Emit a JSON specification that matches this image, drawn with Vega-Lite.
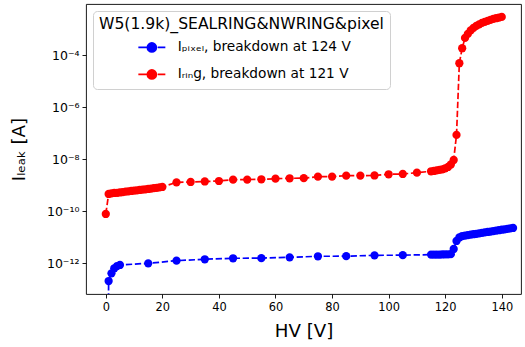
{
  "$schema": "https://vega.github.io/schema/vega-lite/v6.json",
  "width": 435,
  "height": 290,
  "autosize": {"type": "none"},
  "padding": {"left": 86, "top": 4, "right": 4, "bottom": 53},
  "config": {
    "font": "DejaVu Sans",
    "view": {"stroke": "#000", "strokeWidth": 0.9},
    "axis": {
      "grid": false, "domain": false, "tickColor": "#000", "tickSize": 4, "tickWidth": 0.9,
      "labelFontSize": 11.4, "labelColor": "#000", "labelPadding": 3,
      "titleFontSize": 18.2, "titleFontWeight": "normal", "titleColor": "#000"
    }
  },
  "data": {
    "values": [
      {"s": "Iᵣᵢₙg, breakdown at 121 V", "V": 0, "I": 7.87e-11},
      {"s": "Iᵣᵢₙg, breakdown at 121 V", "V": 1, "I": 4.62e-10},
      {"s": "Iᵣᵢₙg, breakdown at 121 V", "V": 2, "I": 4.92e-10},
      {"s": "Iᵣᵢₙg, breakdown at 121 V", "V": 3, "I": 5.06e-10},
      {"s": "Iᵣᵢₙg, breakdown at 121 V", "V": 4, "I": 5.15e-10},
      {"s": "Iᵣᵢₙg, breakdown at 121 V", "V": 5, "I": 5.28e-10},
      {"s": "Iᵣᵢₙg, breakdown at 121 V", "V": 6, "I": 5.47e-10},
      {"s": "Iᵣᵢₙg, breakdown at 121 V", "V": 7, "I": 5.68e-10},
      {"s": "Iᵣᵢₙg, breakdown at 121 V", "V": 8, "I": 5.82e-10},
      {"s": "Iᵣᵢₙg, breakdown at 121 V", "V": 9, "I": 6.04e-10},
      {"s": "Iᵣᵢₙg, breakdown at 121 V", "V": 10, "I": 6.19e-10},
      {"s": "Iᵣᵢₙg, breakdown at 121 V", "V": 11, "I": 6.43e-10},
      {"s": "Iᵣᵢₙg, breakdown at 121 V", "V": 12, "I": 6.59e-10},
      {"s": "Iᵣᵢₙg, breakdown at 121 V", "V": 13, "I": 6.84e-10},
      {"s": "Iᵣᵢₙg, breakdown at 121 V", "V": 14, "I": 7.01e-10},
      {"s": "Iᵣᵢₙg, breakdown at 121 V", "V": 15, "I": 7.21e-10},
      {"s": "Iᵣᵢₙg, breakdown at 121 V", "V": 16, "I": 7.46e-10},
      {"s": "Iᵣᵢₙg, breakdown at 121 V", "V": 17, "I": 7.73e-10},
      {"s": "Iᵣᵢₙg, breakdown at 121 V", "V": 18, "I": 8.02e-10},
      {"s": "Iᵣᵢₙg, breakdown at 121 V", "V": 19, "I": 8.30e-10},
      {"s": "Iᵣᵢₙg, breakdown at 121 V", "V": 20, "I": 8.61e-10},
      {"s": "Iᵣᵢₙg, breakdown at 121 V", "V": 25, "I": 1.30e-9},
      {"s": "Iᵣᵢₙg, breakdown at 121 V", "V": 30, "I": 1.34e-9},
      {"s": "Iᵣᵢₙg, breakdown at 121 V", "V": 35, "I": 1.40e-9},
      {"s": "Iᵣᵢₙg, breakdown at 121 V", "V": 40, "I": 1.46e-9},
      {"s": "Iᵣᵢₙg, breakdown at 121 V", "V": 45, "I": 1.64e-9},
      {"s": "Iᵣᵢₙg, breakdown at 121 V", "V": 50, "I": 1.66e-9},
      {"s": "Iᵣᵢₙg, breakdown at 121 V", "V": 55, "I": 1.70e-9},
      {"s": "Iᵣᵢₙg, breakdown at 121 V", "V": 60, "I": 1.79e-9},
      {"s": "Iᵣᵢₙg, breakdown at 121 V", "V": 65, "I": 1.86e-9},
      {"s": "Iᵣᵢₙg, breakdown at 121 V", "V": 70, "I": 1.88e-9},
      {"s": "Iᵣᵢₙg, breakdown at 121 V", "V": 75, "I": 2.14e-9},
      {"s": "Iᵣᵢₙg, breakdown at 121 V", "V": 80, "I": 2.16e-9},
      {"s": "Iᵣᵢₙg, breakdown at 121 V", "V": 85, "I": 2.34e-9},
      {"s": "Iᵣᵢₙg, breakdown at 121 V", "V": 90, "I": 2.36e-9},
      {"s": "Iᵣᵢₙg, breakdown at 121 V", "V": 95, "I": 2.38e-9},
      {"s": "Iᵣᵢₙg, breakdown at 121 V", "V": 100, "I": 2.65e-9},
      {"s": "Iᵣᵢₙg, breakdown at 121 V", "V": 105, "I": 2.72e-9},
      {"s": "Iᵣᵢₙg, breakdown at 121 V", "V": 110, "I": 3.05e-9},
      {"s": "Iᵣᵢₙg, breakdown at 121 V", "V": 115, "I": 3.45e-9},
      {"s": "Iᵣᵢₙg, breakdown at 121 V", "V": 116, "I": 3.55e-9},
      {"s": "Iᵣᵢₙg, breakdown at 121 V", "V": 117, "I": 3.72e-9},
      {"s": "Iᵣᵢₙg, breakdown at 121 V", "V": 118, "I": 3.89e-9},
      {"s": "Iᵣᵢₙg, breakdown at 121 V", "V": 119, "I": 4.12e-9},
      {"s": "Iᵣᵢₙg, breakdown at 121 V", "V": 120, "I": 4.51e-9},
      {"s": "Iᵣᵢₙg, breakdown at 121 V", "V": 121, "I": 5.06e-9},
      {"s": "Iᵣᵢₙg, breakdown at 121 V", "V": 122, "I": 6.31e-9},
      {"s": "Iᵣᵢₙg, breakdown at 121 V", "V": 123, "I": 9.40e-9},
      {"s": "Iᵣᵢₙg, breakdown at 121 V", "V": 124, "I": 8.61e-8},
      {"s": "Iᵣᵢₙg, breakdown at 121 V", "V": 125, "I": 4.92e-5},
      {"s": "Iᵣᵢₙg, breakdown at 121 V", "V": 126, "I": 1.86e-4},
      {"s": "Iᵣᵢₙg, breakdown at 121 V", "V": 127, "I": 4.62e-4},
      {"s": "Iᵣᵢₙg, breakdown at 121 V", "V": 128, "I": 6.61e-4},
      {"s": "Iᵣᵢₙg, breakdown at 121 V", "V": 129, "I": 8.99e-4},
      {"s": "Iᵣᵢₙg, breakdown at 121 V", "V": 130, "I": 1.12e-3},
      {"s": "Iᵣᵢₙg, breakdown at 121 V", "V": 131, "I": 1.34e-3},
      {"s": "Iᵣᵢₙg, breakdown at 121 V", "V": 132, "I": 1.53e-3},
      {"s": "Iᵣᵢₙg, breakdown at 121 V", "V": 133, "I": 1.75e-3},
      {"s": "Iᵣᵢₙg, breakdown at 121 V", "V": 134, "I": 1.91e-3},
      {"s": "Iᵣᵢₙg, breakdown at 121 V", "V": 135, "I": 2.08e-3},
      {"s": "Iᵣᵢₙg, breakdown at 121 V", "V": 136, "I": 2.28e-3},
      {"s": "Iᵣᵢₙg, breakdown at 121 V", "V": 137, "I": 2.49e-3},
      {"s": "Iᵣᵢₙg, breakdown at 121 V", "V": 138, "I": 2.65e-3},
      {"s": "Iᵣᵢₙg, breakdown at 121 V", "V": 139, "I": 2.82e-3},
      {"s": "Iᵣᵢₙg, breakdown at 121 V", "V": 140, "I": 2.97e-3},
      {"s": "Iₚᵢₓₑₗ, breakdown at 124 V", "V": 0, "I": 1e-30},
      {"s": "Iₚᵢₓₑₗ, breakdown at 124 V", "V": 1, "I": 2.08e-13},
      {"s": "Iₚᵢₓₑₗ, breakdown at 124 V", "V": 2, "I": 4.12e-13},
      {"s": "Iₚᵢₓₑₗ, breakdown at 124 V", "V": 3, "I": 6.43e-13},
      {"s": "Iₚᵢₓₑₗ, breakdown at 124 V", "V": 4, "I": 7.87e-13},
      {"s": "Iₚᵢₓₑₗ, breakdown at 124 V", "V": 5, "I": 8.61e-13},
      {"s": "Iₚᵢₓₑₗ, breakdown at 124 V", "V": 15, "I": 1.00e-12},
      {"s": "Iₚᵢₓₑₗ, breakdown at 124 V", "V": 25, "I": 1.26e-12},
      {"s": "Iₚᵢₓₑₗ, breakdown at 124 V", "V": 35, "I": 1.43e-12},
      {"s": "Iₚᵢₓₑₗ, breakdown at 124 V", "V": 45, "I": 1.56e-12},
      {"s": "Iₚᵢₓₑₗ, breakdown at 124 V", "V": 55, "I": 1.58e-12},
      {"s": "Iₚᵢₓₑₗ, breakdown at 124 V", "V": 65, "I": 1.70e-12},
      {"s": "Iₚᵢₓₑₗ, breakdown at 124 V", "V": 75, "I": 1.86e-12},
      {"s": "Iₚᵢₓₑₗ, breakdown at 124 V", "V": 85, "I": 1.88e-12},
      {"s": "Iₚᵢₓₑₗ, breakdown at 124 V", "V": 95, "I": 2.03e-12},
      {"s": "Iₚᵢₓₑₗ, breakdown at 124 V", "V": 105, "I": 2.05e-12},
      {"s": "Iₚᵢₓₑₗ, breakdown at 124 V", "V": 115, "I": 2.16e-12},
      {"s": "Iₚᵢₓₑₗ, breakdown at 124 V", "V": 116, "I": 2.16e-12},
      {"s": "Iₚᵢₓₑₗ, breakdown at 124 V", "V": 117, "I": 2.17e-12},
      {"s": "Iₚᵢₓₑₗ, breakdown at 124 V", "V": 118, "I": 2.17e-12},
      {"s": "Iₚᵢₓₑₗ, breakdown at 124 V", "V": 119, "I": 2.18e-12},
      {"s": "Iₚᵢₓₑₗ, breakdown at 124 V", "V": 120, "I": 2.19e-12},
      {"s": "Iₚᵢₓₑₗ, breakdown at 124 V", "V": 121, "I": 2.20e-12},
      {"s": "Iₚᵢₓₑₗ, breakdown at 124 V", "V": 122, "I": 2.24e-12},
      {"s": "Iₚᵢₓₑₗ, breakdown at 124 V", "V": 123, "I": 3.55e-12},
      {"s": "Iₚᵢₓₑₗ, breakdown at 124 V", "V": 124, "I": 7.21e-12},
      {"s": "Iₚᵢₓₑₗ, breakdown at 124 V", "V": 125, "I": 9.82e-12},
      {"s": "Iₚᵢₓₑₗ, breakdown at 124 V", "V": 126, "I": 1.12e-11},
      {"s": "Iₚᵢₓₑₗ, breakdown at 124 V", "V": 127, "I": 1.17e-11},
      {"s": "Iₚᵢₓₑₗ, breakdown at 124 V", "V": 128, "I": 1.21e-11},
      {"s": "Iₚᵢₓₑₗ, breakdown at 124 V", "V": 129, "I": 1.26e-11},
      {"s": "Iₚᵢₓₑₗ, breakdown at 124 V", "V": 130, "I": 1.31e-11},
      {"s": "Iₚᵢₓₑₗ, breakdown at 124 V", "V": 131, "I": 1.36e-11},
      {"s": "Iₚᵢₓₑₗ, breakdown at 124 V", "V": 132, "I": 1.42e-11},
      {"s": "Iₚᵢₓₑₗ, breakdown at 124 V", "V": 133, "I": 1.48e-11},
      {"s": "Iₚᵢₓₑₗ, breakdown at 124 V", "V": 134, "I": 1.54e-11},
      {"s": "Iₚᵢₓₑₗ, breakdown at 124 V", "V": 135, "I": 1.60e-11},
      {"s": "Iₚᵢₓₑₗ, breakdown at 124 V", "V": 136, "I": 1.66e-11},
      {"s": "Iₚᵢₓₑₗ, breakdown at 124 V", "V": 137, "I": 1.73e-11},
      {"s": "Iₚᵢₓₑₗ, breakdown at 124 V", "V": 138, "I": 1.80e-11},
      {"s": "Iₚᵢₓₑₗ, breakdown at 124 V", "V": 139, "I": 1.87e-11},
      {"s": "Iₚᵢₓₑₗ, breakdown at 124 V", "V": 140, "I": 1.95e-11},
      {"s": "Iₚᵢₓₑₗ, breakdown at 124 V", "V": 141, "I": 2.03e-11},
      {"s": "Iₚᵢₓₑₗ, breakdown at 124 V", "V": 142, "I": 2.11e-11},
      {"s": "Iₚᵢₓₑₗ, breakdown at 124 V", "V": 143, "I": 2.19e-11},
      {"s": "Iₚᵢₓₑₗ, breakdown at 124 V", "V": 144, "I": 2.28e-11}
    ]
  },
  "encoding": {
    "x": {
      "field": "V", "type": "quantitative",
      "scale": {"domain": [-7, 146.8], "nice": false, "zero": false},
      "axis": {"title": "HV [V]", "values": [0, 20, 40, 60, 80, 100, 120, 140], "titlePadding": 10}
    },
    "y": {
      "field": "I", "type": "quantitative",
      "scale": {"type": "log", "domain": [6.6e-14, 9.33e-3], "nice": false},
      "axis": {
        "title": "Iₗₑₐₖ [A]",
        "values": [1e-12, 1e-10, 1e-8, 1e-6, 1e-4],
        "labelExpr": "datum.value < 3e-12 ? '10⁻¹²' : datum.value < 3e-10 ? '10⁻¹⁰' : datum.value < 3e-8 ? '10⁻⁸' : datum.value < 3e-6 ? '10⁻⁶' : '10⁻⁴'",
        "labelFontSize": 12.5,
        "titlePadding": 18
      }
    },
    "color": {
      "field": "s", "type": "nominal",
      "scale": {
        "domain": ["Iₚᵢₓₑₗ, breakdown at 124 V", "Iᵣᵢₙg, breakdown at 121 V"],
        "range": ["#0000ff", "#ff0000"]
      },
      "legend": {
        "orient": "none", "legendX": 7, "legendY": 7,
        "title": "W5(1.9k)_SEALRING&NWRING&pixel",
        "titleFontSize": 15.6, "titleFontWeight": "normal", "titleColor": "#000", "titleLimit": 600,
        "labelFontSize": 13.7, "labelColor": "#000", "labelLimit": 600,
        "fillColor": "rgba(255,255,255,0.8)", "strokeColor": "#d0d0d0", "cornerRadius": 4,
        "padding": 6, "titlePadding": 8, "rowPadding": 10,
        "symbolType": "M-3,0H-1.1M1.3,0H3M1,0A1,1,0,1,1,-1,0A1,1,0,1,1,1,0Z",
        "symbolSize": 81, "symbolStrokeWidth": 1.7,
        "symbolOffset": 46, "labelOffset": 19,
        "encode": {
          "symbols": {
            "update": {
              "fill": {"scale": "color", "field": "value"},
              "stroke": {"scale": "color", "field": "value"},
              "opacity": {"value": 1}
            }
          }
        }
      }
    }
  },
  "layer": [
    {
      "mark": {"type": "line", "clip": true, "strokeWidth": 1.7, "strokeDash": [6.3, 2.7]}
    },
    {
      "mark": {"type": "point", "clip": true, "filled": true, "size": 68, "opacity": 1}
    }
  ]
}
